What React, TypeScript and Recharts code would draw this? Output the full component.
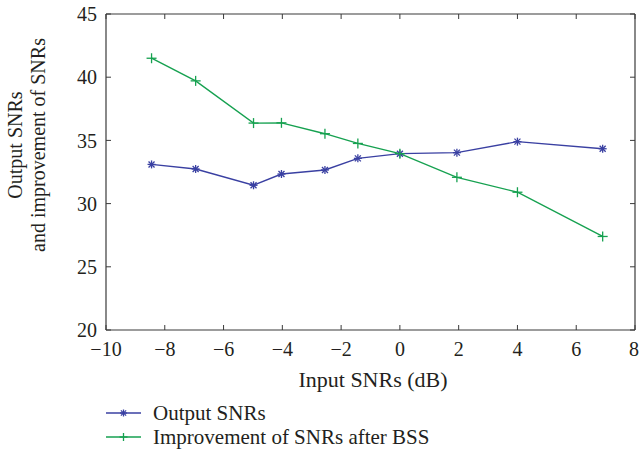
import React from 'react';
import { LineChart, Line, XAxis, YAxis, Legend } from 'recharts';

const inputSNRs = [-8.45, -6.95, -4.98, -4.03, -2.55, -1.43, 0, 1.94, 4.0, 6.9];
const outputSNRs = [33.1, 32.74, 31.45, 32.34, 32.66, 33.58, 33.95, 34.03, 34.9, 34.34];
const improvementSNRs = [41.5, 39.71, 36.37, 36.39, 35.53, 34.76, 33.95, 32.08, 30.9, 27.4];
const xTicks = [-10, -8, -6, -4, -2, 0, 2, 4, 6, 8];
const yTicks = [20, 25, 30, 35, 40, 45];
const seriesNames = ['Output SNRs', 'Improvement of SNRs after BSS'];
const xLabel = 'Input SNRs (dB)';
const yLabelLines = ['Output SNRs', 'and improvement of SNRs'];

const BLUE = '#3a40a2';
const GREEN = '#16a150';
const AXIS = '#3a3a3a';
const TEXT = '#231f20';
const FONT = '"Liberation Serif", "Times New Roman", serif';

const data = inputSNRs.map((x, i) => ({ x, out: outputSNRs[i], imp: improvementSNRs[i] }));

const fmt = (v: number) => (v < 0 ? '\u2212' + Math.abs(v) : String(v));

const starShape = (cx: number, cy: number, color: string, r = 4) => (
  <g stroke={color} strokeWidth={1.3}>
    <line x1={cx - r} y1={cy} x2={cx + r} y2={cy} />
    <line x1={cx} y1={cy - r} x2={cx} y2={cy + r} />
    <line x1={cx - r * 0.75} y1={cy - r * 0.75} x2={cx + r * 0.75} y2={cy + r * 0.75} />
    <line x1={cx - r * 0.75} y1={cy + r * 0.75} x2={cx + r * 0.75} y2={cy - r * 0.75} />
  </g>
);

const plusShape = (cx: number, cy: number, color: string, r = 5) => (
  <g stroke={color} strokeWidth={1.3}>
    <line x1={cx - r} y1={cy} x2={cx + r} y2={cy} />
    <line x1={cx} y1={cy - r} x2={cx} y2={cy + r} />
  </g>
);

const StarDot = (props: any) => {
  const { cx, cy, index } = props;
  if (cx == null || cy == null) return <g key={'s' + index} />;
  return <g key={'s' + index}>{starShape(cx, cy, BLUE)}</g>;
};

const PlusDot = (props: any) => {
  const { cx, cy, index } = props;
  if (cx == null || cy == null) return <g key={'p' + index} />;
  return <g key={'p' + index}>{plusShape(cx, cy, GREEN)}</g>;
};

const EmptyTick = () => <g />;

const YLabel = () => (
  <g fontFamily={FONT} fontSize={20} fill={TEXT}>
    <text transform="translate(15,145) rotate(-90)" textAnchor="middle" dy="0.35em">
      {yLabelLines[0]}
    </text>
    <text transform="translate(38,145) rotate(-90)" textAnchor="middle" dy="0.35em">
      {yLabelLines[1]}
    </text>
  </g>
);

const XLabel = () => (
  <text x={373} y={387} textAnchor="middle" fontFamily={FONT} fontSize={22} fill={TEXT}>
    {xLabel}
  </text>
);

const LegendContent = () => {
  const rows = [
    { name: seriesNames[0], color: BLUE, kind: 'star' },
    { name: seriesNames[1], color: GREEN, kind: 'plus' },
  ];
  return (
    <div style={{ fontFamily: FONT, fontSize: 21, color: TEXT, width: 400 }}>
      {rows.map((r) => (
        <div key={r.name} style={{ display: 'flex', alignItems: 'center', height: 24 }}>
          <svg width={36} height={24} style={{ display: 'block', flexShrink: 0 }}>
            <line x1={0} y1={12} x2={35} y2={12} stroke={r.color} strokeWidth={1.5} />
            {r.kind === 'star' ? starShape(17.5, 12, r.color, 3.5) : plusShape(17.5, 12, r.color, 4)}
          </svg>
          <span style={{ marginLeft: 11, whiteSpace: 'nowrap', lineHeight: '24px' }}>{r.name}</span>
        </div>
      ))}
    </div>
  );
};

export default function App() {
  return (
    <div style={{ position: 'absolute', left: 0, top: 0, width: 639, height: 454, background: '#fff' }}>
      <LineChart width={639} height={454} data={data} margin={{ top: 13, right: 3, left: 0, bottom: 0 }}>
        <XAxis
          xAxisId="b"
          dataKey="x"
          type="number"
          domain={[-10, 8]}
          ticks={xTicks}
          allowDataOverflow
          height={124}
          tickSize={-5}
          tickMargin={17}
          tickFormatter={fmt}
          tick={{ fontFamily: FONT, fontSize: 20, fill: TEXT }}
          axisLine={{ stroke: AXIS, strokeWidth: 1.2 }}
          tickLine={{ stroke: AXIS }}
          label={{ content: XLabel }}
        />
        <XAxis
          xAxisId="t"
          orientation="top"
          dataKey="x"
          type="number"
          domain={[-10, 8]}
          ticks={xTicks}
          allowDataOverflow
          height={1}
          tickSize={-5}
          tick={EmptyTick}
          axisLine={{ stroke: AXIS, strokeWidth: 1.2 }}
          tickLine={{ stroke: AXIS }}
        />
        <YAxis
          yAxisId="l"
          type="number"
          domain={[20, 45]}
          ticks={yTicks}
          allowDataOverflow
          width={106}
          tickSize={-5}
          tickMargin={14}
          tickFormatter={fmt}
          tick={{ fontFamily: FONT, fontSize: 20, fill: TEXT }}
          axisLine={{ stroke: AXIS, strokeWidth: 1.2 }}
          tickLine={{ stroke: AXIS }}
          label={{ content: YLabel }}
        />
        <YAxis
          yAxisId="r"
          orientation="right"
          type="number"
          domain={[20, 45]}
          ticks={yTicks}
          allowDataOverflow
          width={1}
          tickSize={-5}
          tick={EmptyTick}
          axisLine={{ stroke: AXIS, strokeWidth: 1.2 }}
          tickLine={{ stroke: AXIS }}
        />
        <Line
          xAxisId="b"
          yAxisId="l"
          dataKey="out"
          name={seriesNames[0]}
          stroke={BLUE}
          strokeWidth={1.4}
          dot={StarDot}
          activeDot={false}
          isAnimationActive={false}
        />
        <Line
          xAxisId="b"
          yAxisId="l"
          dataKey="imp"
          name={seriesNames[1]}
          stroke={GREEN}
          strokeWidth={1.4}
          dot={PlusDot}
          activeDot={false}
          isAnimationActive={false}
        />
        <Legend
          layout="vertical"
          align="center"
          verticalAlign="bottom"
          wrapperStyle={{ left: 106, top: 401, bottom: 'auto', width: 400, height: 0, overflow: 'visible' }}
          content={LegendContent}
        />
      </LineChart>
    </div>
  );
}
